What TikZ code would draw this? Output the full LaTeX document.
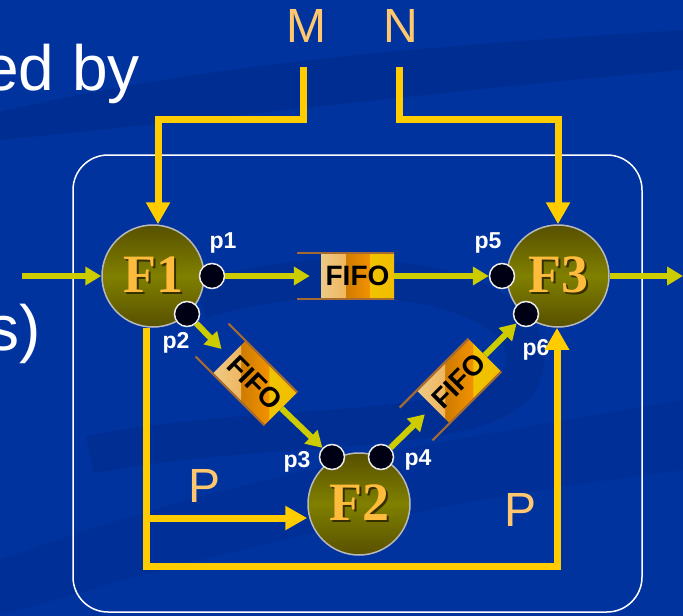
\documentclass[tikz,border=0pt]{standalone}
\usepackage{fontspec}
\setmainfont{Liberation Sans}
\newfontfamily\serifbold{Liberation Serif}
\usepackage{tikz}
\usetikzlibrary{arrows.meta, positioning, calc, shapes.geometric}
\usepackage{xcolor}

\definecolor{slideblue}{RGB}{0, 51, 158}
\definecolor{swooshblue}{RGB}{0, 40, 135}
\definecolor{feedgold}{RGB}{255, 204, 0}
\definecolor{flowlime}{RGB}{204, 204, 0}
\definecolor{siglabel}{RGB}{255, 200, 110}
\definecolor{fgold}{RGB}{255, 188, 60}
\definecolor{oliveA}{RGB}{128, 128, 0}
\definecolor{oliveB}{RGB}{88, 80, 0}
\definecolor{fifotan}{RGB}{236, 196, 120}
\definecolor{fifoorange}{RGB}{242, 145, 0}
\definecolor{fifoyellow}{RGB}{240, 196, 0}
\definecolor{fifobrown}{RGB}{165, 105, 50}

\pgfdeclarehorizontalshading{fifostripes}{100bp}{color(0bp)=(fifotan); color(25bp)=(fifotan!90!white); color(41.5bp)=(fifotan!80!orange); color(41.7bp)=(fifoorange!85!black); color(58.2bp)=(fifoorange); color(58.4bp)=(fifoyellow); color(75bp)=(fifoyellow!90!orange); color(100bp)=(fifoyellow)}

\newcommand{\ftxt}[1]{\makebox[0pt][l]{\hspace{2pt}\raisebox{-2pt}{\color{oliveB!60!black}#1}}#1}

\begin{document}
\begin{tikzpicture}[x=1pt, y=-1pt,
    fnode/.style={circle, draw=gray!55, line width=1.5pt, minimum size=102pt, inner sep=0pt, top color=oliveB, bottom color=oliveB, middle color=oliveA, text=fgold, font=\serifbold\bfseries\fontsize{54}{54}\selectfont},
    port/.style={circle, draw=gray!15, line width=1.5pt, fill=black!92!blue, minimum size=25pt, inner sep=0pt},
    portlabel/.style={text=white, inner sep=0pt, font=\bfseries\fontsize{23}{23}\selectfont},
    fifobox/.style={rectangle, minimum width=73pt, minimum height=46pt, inner sep=0pt, shade, shading=fifostripes, font=\bfseries\fontsize{28}{28}\selectfont},
    fifoframe/.style={fifobrown, line width=2.2pt},
    flow/.style={flowlime, line width=6pt, -{Triangle[length=16pt, width=18pt]}},
    feed/.style={feedgold, line width=7pt, -{Triangle[length=22pt, width=23pt]}},
    sig/.style={text=siglabel, inner sep=0pt, font=\fontsize{48}{48}\selectfont},
    slide/.style={text=white, inner sep=0pt, font=\fontsize{64}{64}\selectfont}]

% background
\useasboundingbox (0,0) rectangle (683,616);
\fill[slideblue] (0,0) rectangle (683,616);
\fill[swooshblue, opacity=0.5] (0,112) .. controls (220,60) and (450,45) .. (683,30) -- (683,70) .. controls (450,90) and (300,110) .. (0,140) -- cycle;
\draw[swooshblue, opacity=0.45, line width=38pt] (200,300) .. controls (360,250) and (560,290) .. (520,380) .. controls (480,440) and (260,420) .. (90,455);
\fill[swooshblue, opacity=0.3] (0,560) .. controls (250,470) and (450,440) .. (683,400) -- (683,470) .. controls (450,500) and (250,540) .. (0,616) -- cycle;

% left slide text (cut off)
\node[slide, anchor=base east] (bodyA) at (140,90) {ed by};
\node[slide, anchor=base east] (bodyB) at (41,350) {s)};

% outer box
\draw[white, line width=1.5pt, rounded corners=35pt] (73,155) rectangle (642,612);

% processes
\node[fnode] (F1) at (153,276) {\ftxt{F1}};
\node[fnode] (F2) at (359,504) {\ftxt{F2}};
\node[fnode] (F3) at (558,276) {\ftxt{F3}};

% fifos
\node[fifobox] (q1) at (357.5,276) {FIFO};
\node[fifobox, rotate=-45] (q2) at (255,383) {FIFO};
\node[fifobox, rotate=45] (q3) at (459,381) {FIFO};
\foreach \q in {q1,q2,q3}{
  \draw[fifoframe] (\q.north east) -- ($(\q.north west)!-24pt!(\q.north east)$);
  \draw[fifoframe] (\q.south east) -- ($(\q.south west)!-24pt!(\q.south east)$);
}

% ports
\node[port] (p1) at (212,276) {};
\node[port] (p2) at (187,314) {};
\node[port] (p3) at (332,457) {};
\node[port] (p4) at (381,457) {};
\node[port] (p5) at (502,276) {};
\node[port] (p6) at (526,314) {};
\node[portlabel] (l1) at (223,243) {p1};
\node[portlabel] (l2) at (176,343) {p2};
\node[portlabel] (l3) at (297,462) {p3};
\node[portlabel] (l4) at (418,460) {p4};
\node[portlabel] (l5) at (488,243) {p5};
\node[portlabel] (l6) at (536,350) {p6};

% data flow
\coordinate (fin) at (22,276);
\coordinate (fout) at (683,276);
\draw[flow] (fin) -- (F1);
\draw[flow, shorten >=11pt] (p1) -- (q1);
\draw[flow] (q1) -- (p5);
\draw[flow, shorten >=11pt] (p2) -- (q2);
\draw[flow] (q2) -- (p3);
\draw[flow, shorten >=11pt] (p4) -- (q3);
\draw[flow] (q3) -- (p6);
\draw[flow] (F3) -- (fout);

% parameters
\node[sig] (M) at (306,26) {M};
\node[sig] (N) at (401,26) {N};
\node[sig] (Pa) at (205,486) {P};
\node[sig] (Pb) at (521,510) {P};
\coordinate (mend) at (303,67);
\coordinate (nend) at (399,67);
\coordinate (pjoin) at (146,518);
\draw[feed] (mend) -- ++(0,52) -| ([xshift=5pt]F1.north);
\draw[feed] (nend) -- ++(0,52) -| (F3);
\draw[feed] ([xshift=-7pt]F1.south) -- ++(0,239) -| ([xshift=-1pt]F3.south);
\draw[feed] (pjoin) -- ([yshift=-14pt]F2.west);
\end{tikzpicture}
\end{document}
